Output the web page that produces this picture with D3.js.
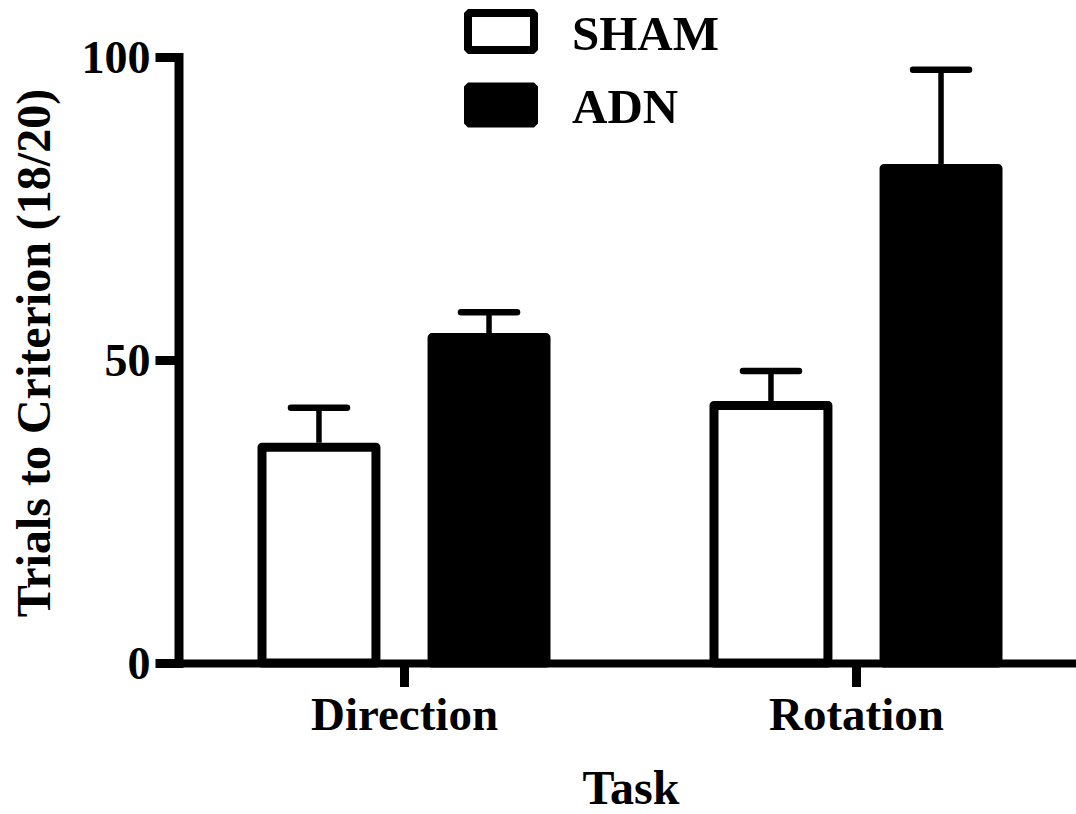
<!DOCTYPE html>
<html>
<head>
<meta charset="utf-8">
<script src="https://cdn.jsdelivr.net/npm/d3@7"></script>
<style>
  body { margin: 0; background: #fff; }
</style>
</head>
<body>
<div id="chart"></div>
<script>
// values
const tasks = ['Direction', 'Rotation'];
const groups = ['SHAM', 'ADN'];
const shamMean = [35.6, 42.5];
const shamSem = [6.5, 5.7];
const adnMean = [53.7, 81.6];
const adnSem = [4.2, 16.3];
const yTicks = [0, 50, 100];

const width = 1076;
const height = 814;
const barStroke = 9;
const serif = '"Liberation Serif", "DejaVu Serif", serif';

const rows = [];
tasks.forEach(function(t, i) {
  rows.push({ task: t, group: 'SHAM', mean: shamMean[i], sem: shamSem[i] });
  rows.push({ task: t, group: 'ADN', mean: adnMean[i], sem: adnSem[i] });
});

const svg = d3.select('#chart').append('svg')
  .attr('width', width)
  .attr('height', height);

const y = d3.scaleLinear().domain([0, 100]).range([663, 57]);
const x = d3.scalePoint().domain(tasks).range([178, 1082]).padding(0.5);
const xInner = d3.scaleBand().domain(groups).range([-142, 142]).paddingInner(0.33);

// bars
const bars = svg.append('g');
bars.selectAll('rect')
  .data(rows)
  .enter().append('rect')
  .attr('x', d => x(d.task) + xInner(d.group))
  .attr('y', d => y(d.mean))
  .attr('width', xInner.bandwidth())
  .attr('height', d => y(0) - y(d.mean))
  .attr('fill', d => d.group === 'ADN' ? '#000' : '#fff')
  .attr('stroke', '#000')
  .attr('stroke-width', barStroke)
  .attr('stroke-linejoin', 'round');

// upper error bars only
const errs = svg.append('g').attr('stroke', '#000');
errs.selectAll('.stem')
  .data(rows)
  .enter().append('line')
  .attr('class', 'stem')
  .attr('x1', d => x(d.task) + xInner(d.group) + xInner.bandwidth() / 2)
  .attr('x2', d => x(d.task) + xInner(d.group) + xInner.bandwidth() / 2)
  .attr('y1', d => y(d.mean) - barStroke / 2)
  .attr('y2', d => y(d.mean + d.sem))
  .attr('stroke-width', 5.5);
errs.selectAll('.cap')
  .data(rows)
  .enter().append('line')
  .attr('class', 'cap')
  .attr('x1', d => x(d.task) + xInner(d.group) + xInner.bandwidth() / 2 - 28)
  .attr('x2', d => x(d.task) + xInner(d.group) + xInner.bandwidth() / 2 + 28)
  .attr('y1', d => y(d.mean + d.sem))
  .attr('y2', d => y(d.mean + d.sem))
  .attr('stroke-width', 6.5)
  .attr('stroke-linecap', 'round');

// y axis
const yAxis = svg.append('g')
  .attr('transform', 'translate(178.5,0)')
  .call(d3.axisLeft(y).tickValues(yTicks).tickSize(23).tickSizeOuter(0).tickPadding(5));
yAxis.select('.domain').attr('stroke-width', 9).attr('stroke-linecap', 'square');
yAxis.selectAll('.tick line').attr('stroke-width', 9);
yAxis.selectAll('.tick text')
  .style('font-family', serif)
  .style('font-weight', 'bold')
  .style('font-size', '46px')
  .attr('fill', '#000')
  .attr('dy', '0.34em');

// x axis
const xAxis = svg.append('g')
  .attr('transform', 'translate(0,663)')
  .call(d3.axisBottom(x).tickSize(24).tickSizeOuter(0));
xAxis.select('.domain').attr('stroke-width', 8).attr('stroke-linecap', 'square');
xAxis.selectAll('.tick line').attr('stroke-width', 9);
xAxis.selectAll('.tick text')
  .style('font-family', serif)
  .style('font-weight', 'bold')
  .style('font-size', '47px')
  .attr('fill', '#000')
  .attr('y', 67)
  .attr('dy', null);

// axis titles
svg.append('text')
  .attr('x', 631)
  .attr('y', 804)
  .attr('text-anchor', 'middle')
  .style('font-family', serif)
  .style('font-weight', 'bold')
  .style('font-size', '48px')
  .text('Task');

svg.append('text')
  .attr('transform', 'translate(50,353) rotate(-90)')
  .attr('text-anchor', 'middle')
  .style('font-family', serif)
  .style('font-weight', 'bold')
  .style('font-size', '48px')
  .text('Trials to Criterion (18/20)');

// legend
const legend = svg.append('g');
const legendY = d3.scalePoint().domain(groups).range([31.5, 105]);
legend.selectAll('rect')
  .data(groups)
  .enter().append('rect')
  .attr('x', 468)
  .attr('y', d => legendY(d) - 18.5)
  .attr('width', 66)
  .attr('height', 37)
  .attr('fill', d => d === 'ADN' ? '#000' : '#fff')
  .attr('stroke', '#000')
  .attr('stroke-width', 8)
  .attr('stroke-linejoin', 'bevel');
legend.selectAll('text')
  .data(groups)
  .enter().append('text')
  .attr('x', 572)
  .attr('y', d => legendY(d) + 18)
  .style('font-family', serif)
  .style('font-weight', 'bold')
  .style('font-size', '49px')
  .text(d => d);
</script>
</body>
</html>
